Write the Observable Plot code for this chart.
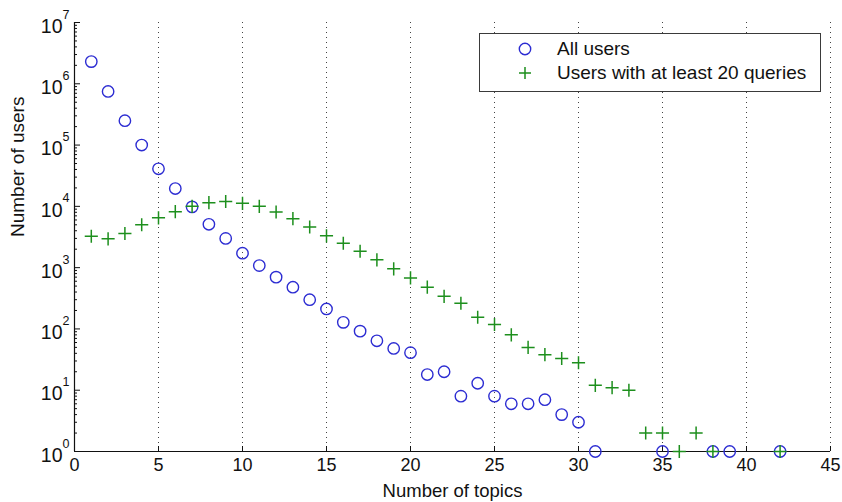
<!DOCTYPE html>
<html><head><meta charset="utf-8">
<script src="https://cdn.jsdelivr.net/npm/d3@7"></script>
<script src="https://cdn.jsdelivr.net/npm/@observablehq/plot@0.6"></script>
<style>
body{margin:0;background:#fff;font-family:"Liberation Sans",Arial,Helvetica,sans-serif;}
#wrap{position:relative;width:842px;height:502px;overflow:hidden;}
#legend{position:absolute;left:479px;top:33px;width:340px;height:57px;border:1.3px solid #3a3a3a;background:#fff;}
#legend .item{position:absolute;left:0;height:24px;width:340px;}
#legend svg{position:absolute;left:33px;top:0;}
#legend span{position:absolute;left:77px;top:0;line-height:24px;font-size:19px;color:#111;white-space:nowrap;}
</style></head><body><div id="wrap"></div>
<script>
// Number of topics (x) and number of users (y)
const allUsersTopics = [1,2,3,4,5,6,7,8,9,10,11,12,13,14,15,16,17,18,19,20,21,22,23,24,25,26,27,28,29,30,31,35,38,39,42];
const allUsersCounts = [2.3e6,7.5e5,2.5e5,1.0e5,4.1e4,1.95e4,9.8e3,5.1e3,3.0e3,1.72e3,1.08e3,700,480,300,212,128,92,64,48,41,18,20,8,13,8,6,6,7,4,3,1,1,1,1,1];
const heavyTopics = [1,2,3,4,5,6,7,8,9,10,11,12,13,14,15,16,17,18,19,20,21,22,23,24,25,26,27,28,29,30,31,32,33,34,35,36,37,38,42];
const heavyCounts = [3.25e3,2.95e3,3.6e3,5.0e3,6.5e3,8.2e3,1.0e4,1.15e4,1.2e4,1.12e4,1.0e4,8.1e3,6.3e3,4.6e3,3.3e3,2.5e3,1.85e3,1.34e3,955,680,480,340,262,155,118,80,50,38,33,28,12,11,10,2,2,1,2,1,1];
const seriesNames = ["All users", "Users with at least 20 queries"];
const xTicks = [0,5,10,15,20,25,30,35,40,45];
const yExponents = [0,1,2,3,4,5,6,7];
const xLabel = "Number of topics";
const yLabel = "Number of users";

const allData = allUsersTopics.map((t,i)=>({topics:t, users:allUsersCounts[i]}));
const heavyData = heavyTopics.map((t,i)=>({topics:t, users:heavyCounts[i]}));
const majorY = yExponents.map(e=>10**e);
const minorY = [];
for (const e of yExponents.slice(0,-1)) for (let m=2;m<=9;m++) minorY.push(m*10**e);

const blue = "#2c2cd2", green = "#1d8f1d";

const chart = Plot.plot({
  width: 842, height: 502,
  marginLeft: 74, marginRight: 12, marginTop: 22, marginBottom: 51,
  style: {fontFamily: "'Liberation Sans', Arial, Helvetica, sans-serif", fontSize: "18px", background: "white", color: "#111", overflow: "visible"},
  x: {domain: [0,45]},
  y: {type: "log", domain: [1, 1e7]},
  marks: [
    Plot.gridX(xTicks.filter(d=>d>0), {stroke:"#222", strokeOpacity: 0.85, strokeDasharray: "1,4", strokeWidth: 1}),
    Plot.ruleX([0], {stroke:"#111", strokeWidth: 1.2}),
    Plot.ruleY([1], {stroke:"#111", strokeWidth: 1.2}),
    Plot.axisX(xTicks, {tickSize: -5, tickPadding: 12, label: null, fontSize: 18, tickFormat: d=>String(d)}),
    Plot.axisY(minorY, {tickSize: -3, tickFormat: ()=>"", label: null}),
    Plot.axisY(majorY, {tickSize: -6, tickFormat: ()=>"", label: null}),
    Plot.text(majorY, {y: d=>d, frameAnchor: "left", text: ()=>"10", textAnchor: "end", dx: -12, dy: 4, fontSize: 19.5}),
    Plot.text(yExponents, {y: d=>10**d, frameAnchor: "left", text: d=>String(d), textAnchor: "start", dx: -12, dy: -8, fontSize: 12.5}),
    Plot.text([xLabel], {frameAnchor: "bottom", dy: 45, text: d=>d, fontSize: 18.5}),
    Plot.text([yLabel], {frameAnchor: "left", dx: -57, rotate: -90, text: d=>d, fontSize: 19}),
    Plot.dot(allData, {x: "topics", y: "users", r: 5.7, stroke: blue, strokeWidth: 1.4, fill: "none"}),
    Plot.dot(heavyData, {x: "topics", y: "users", symbol: "plus", r: 4.3, stroke: green, strokeWidth: 1.5, fill: "none"})
  ]
});
const wrap = document.getElementById("wrap");
wrap.appendChild(chart);

const legend = document.createElement("div");
legend.id = "legend";
legend.innerHTML = `
 <div class="item" style="top:3px"><svg width="24" height="24"><circle cx="12" cy="12" r="5.7" fill="none" stroke="${blue}" stroke-width="1.4"/></svg><span>${seriesNames[0]}</span></div>
 <div class="item" style="top:27px"><svg width="24" height="24"><path d="M12,6V18M6,12H18" fill="none" stroke="${green}" stroke-width="1.5"/></svg><span>${seriesNames[1]}</span></div>`;
wrap.appendChild(legend);
</script>
</body></html>
